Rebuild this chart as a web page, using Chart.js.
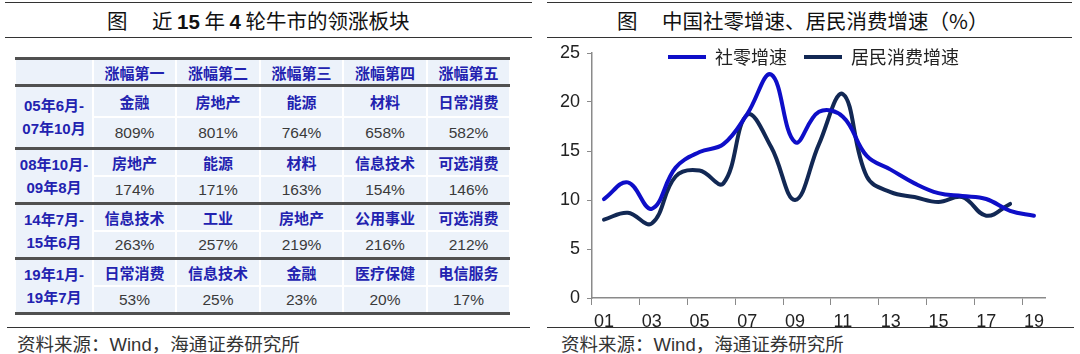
<!DOCTYPE html>
<html>
<head>
<meta charset="utf-8">
<script src="https://cdn.jsdelivr.net/npm/chart.js@4/dist/chart.umd.min.js"></script>
<style>
  body { margin: 0; width: 1080px; height: 354px; background: #fff; position: relative; overflow: hidden;
         font-family: "Noto Sans CJK SC", "Noto Sans", sans-serif; }
  .rule { position: absolute; height: 0; border-top: 1px solid #333; }
  .title { position: absolute; top: 4px; font-size: 20.5px; line-height: 32px; color: #111; white-space: pre; }
  .title b { font-family: "Liberation Sans", Arial, sans-serif; }
  .source { position: absolute; top: 330px; font-size: 18.5px; line-height: 26px; color: #333; }
  .source .en { font-family: "Liberation Sans", Arial, sans-serif; }
  #tbl { position: absolute; left: 0; top: 0; }
  .cell { position: absolute; background: #ecf2fa; display: flex; align-items: center; justify-content: center; text-align: center; }
  .sec { color: #2222b0; font-weight: bold; font-size: 15px; }
  .pct { color: #3a3a3a; font-family: "Liberation Sans", Arial, sans-serif; font-size: 15.5px; }
  .per { color: #2222b0; font-weight: bold; font-size: 15px; line-height: 23px; font-family: "Liberation Sans", "Noto Sans CJK SC", sans-serif; }
  .thick { position: absolute; left: 15px; width: 495px; height: 3px; background: #505050; }
  #wrap { position: absolute; left: 545px; top: 8px; width: 505px; height: 330px; }
</style>
</head>
<body>
<div class="rule" style="left:5px; width:527px; top:2px"></div>
<div class="title" style="left:107px">图</div>
<div class="title" style="left:152px">近 <b>15</b> 年 <b>4</b> 轮牛市的领涨板块</div>
<div class="rule" style="left:5px; width:527px; top:37px"></div>

<div class="rule" style="left:547px; width:525px; top:2px"></div>
<div class="title" style="left:617px">图</div>
<div class="title" style="left:662px">中国社零增速、居民消费增速（%）</div>
<div class="rule" style="left:547px; width:525px; top:37px"></div>

<div id="tbl"></div>

<div class="rule" style="left:7px; width:523px; top:327px"></div>
<div class="source" style="left:17px">资料来源：<span class="en">Wind</span>，海通证券研究所</div>
<div class="rule" style="left:547px; width:527px; top:327px"></div>
<div class="source" style="left:561px">资料来源：<span class="en">Wind</span>，海通证券研究所</div>

<div id="wrap"><canvas id="chart"></canvas></div>

<script>
// table data
let rankNames = ['涨幅第一', '涨幅第二', '涨幅第三', '涨幅第四', '涨幅第五'];
let periodStart = ['05年6月-', '08年10月-', '14年7月-', '19年1月-'];
let periodEnd = ['07年10月', '09年8月', '15年6月', '19年7月'];
let sectors = [
    ['金融', '房地产', '能源', '材料', '日常消费'],
    ['房地产', '能源', '材料', '信息技术', '可选消费'],
    ['信息技术', '工业', '房地产', '公用事业', '可选消费'],
    ['日常消费', '信息技术', '金融', '医疗保健', '电信服务']
];
let gains = [
    [809, 801, 764, 658, 582],
    [174, 171, 163, 154, 146],
    [263, 257, 219, 216, 212],
    [53, 25, 23, 20, 17]
];

// chart data
let years = ['01', '02', '03', '04', '05', '06', '07', '08', '09', '10',
             '11', '12', '13', '14', '15', '16', '17', '18', '19'];
let retailGrowth = [10.1, 11.8, 9.1, 13.3, 14.9, 15.7, 18.8, 22.8, 15.9, 19.0,
                    18.5, 14.5, 13.1, 11.7, 10.7, 10.4, 10.1, 8.9, 8.4];
let consumptionGrowth = [8.0, 8.7, 7.6, 12.4, 13.0, 11.7, 18.7, 15.4, 10.0, 15.7,
                         20.8, 12.4, 10.8, 10.3, 9.8, 10.3, 8.4, 9.6, null];
let yTicks = [0, 5, 10, 15, 20, 25];

// table layout (page pixels)
let colEdges = [15, 93, 176, 260, 343, 427, 510];
let rowEdges = [58, 85, 148, 203, 258, 313];

let cell = (x0, x1, y0, y1, cls, text) =>
    "<div class='cell " + cls + "' style='left:" + (x0 + 1) + "px;width:" + (x1 - x0 - 2) + "px;top:" + y0 +
    "px;height:" + (y1 - y0) + "px'>" + text + "</div>";

let buildTable = () => {
    let html = '';
    // header row
    let top = rowEdges[0] + 2, bottom = rowEdges[1] - 1;
    html += cell(colEdges[0], colEdges[1], top, bottom, '', '');
    rankNames.forEach((n, c) => { html += cell(colEdges[c + 1], colEdges[c + 2], top, bottom, 'sec', n); });
    // data rows: sector name above, gain below
    sectors.forEach((row, r) => {
        let y0 = rowEdges[r + 1] + 2, y1 = rowEdges[r + 2] - 1;
        let mid = Math.round((y0 + y1) / 2);
        html += cell(colEdges[0], colEdges[1], y0, y1, 'per', periodStart[r] + '<br>' + periodEnd[r]);
        row.forEach((s, c) => {
            html += cell(colEdges[c + 1], colEdges[c + 2], y0, mid - 1, 'sec', s);
            html += cell(colEdges[c + 1], colEdges[c + 2], mid + 1, y1, 'pct', gains[r][c] + '%');
        });
    });
    rowEdges.forEach(y => { html += "<div class='thick' style='top:" + (y - 1) + "px'></div>"; });
    document.querySelector('#tbl').innerHTML = html;
};

// move the legend down into the plot area, like the original
let legendInside = {
    id: 'legendInside',
    afterLayout(chart) {
        let lg = chart.legend;
        let p = lg.options.labels.padding;
        let h = lg.bottom - lg.top;
        lg.top = chart.chartArea.top + 4 - p - 9;
        lg.bottom = lg.top + h;
        lg.left += 16;
        lg.right += 16;
    }
};

let drawChart = () => {
    let ctx = document.querySelector('#chart');
    new Chart(ctx, {
        type: 'line',
        data: {
            labels: years,
            datasets: [
                { label: '社零增速', data: retailGrowth, borderColor: 'rgb(14,14,200)', backgroundColor: 'rgb(14,14,200)',
                  borderWidth: 4, borderCapStyle: 'round', tension: 0.4, pointRadius: 0 },
                { label: '居民消费增速', data: consumptionGrowth, borderColor: 'rgb(18,40,84)', backgroundColor: 'rgb(18,40,84)',
                  borderWidth: 4, borderCapStyle: 'round', tension: 0.4, pointRadius: 0 }
            ]
        },
        options: {
            responsive: true,
            maintainAspectRatio: false,
            animation: false,
            layout: { padding: 0 },
            plugins: {
                legend: {
                    position: 'top',
                    align: 'center',
                    labels: {
                        boxWidth: 38, boxHeight: 0, padding: 17, color: '#222',
                        font: { family: '"Noto Sans CJK SC"', size: 18 }
                    }
                },
                tooltip: { enabled: false }
            },
            scales: {
                x: {
                    offset: true,
                    grid: {
                        offset: true, drawOnChartArea: false, tickLength: 7,
                        color: c => c.index % 2 == 0 ? '#8a8a8a' : 'rgba(0,0,0,0)'
                    },
                    border: { color: '#8a8a8a', width: 1.5 },
                    ticks: {
                        autoSkip: false, maxRotation: 0, padding: 6, color: '#222',
                        font: { family: '"Liberation Sans", Arial', size: 18 },
                        callback: (v, i) => i % 2 == 0 ? years[i] : ''
                    },
                    afterFit: s => { s.height = 40; }
                },
                y: {
                    min: 0, max: 25,
                    afterBuildTicks: s => { s.ticks = yTicks.map(v => ({ value: v })); },
                    grid: { drawOnChartArea: false, tickLength: 5, color: '#8a8a8a' },
                    border: { color: '#8a8a8a', width: 1.5 },
                    ticks: { padding: 7, color: '#222', font: { family: '"Liberation Sans", Arial', size: 18 } },
                    afterFit: s => { s.width = 47; }
                }
            }
        },
        plugins: [legendInside]
    });
};

buildTable();
drawChart();
</script>
</body>
</html>
